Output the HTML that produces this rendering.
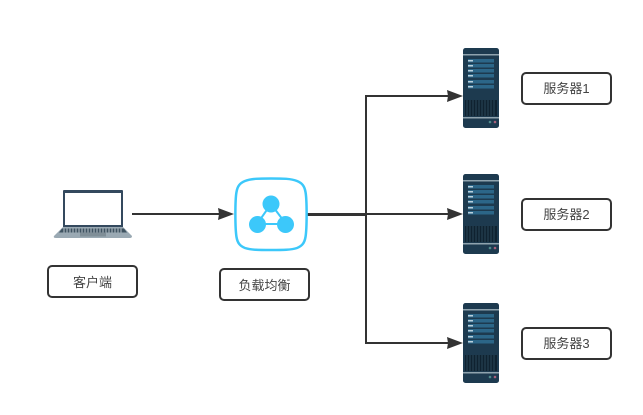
<!DOCTYPE html>
<html><head><meta charset="utf-8"><style>
html,body{margin:0;padding:0;background:#fff}
svg{display:block}
text{font-family:"Liberation Sans","Noto Sans CJK SC",sans-serif;font-size:13px;fill:#444;text-anchor:middle}
</style></head><body>
<svg width="643" height="415" viewBox="0 0 643 415" xmlns="http://www.w3.org/2000/svg">
<defs>
<g id="srv">
<rect x="0" y="0" width="36" height="80" rx="2.5" fill="#1d3a4f"/>
<rect x="0" y="6" width="36" height="1.500" fill="#8fa3ae"/>
<rect x="0" y="69" width="36" height="1.500" fill="#8fa3ae"/>
<rect x="5" y="11" width="26" height="3.500" fill="#2c6688"/>
<rect x="5" y="16" width="26" height="3.500" fill="#2c6688"/>
<rect x="5" y="21" width="26" height="3.500" fill="#2c6688"/>
<rect x="5" y="26" width="26" height="3.500" fill="#2c6688"/>
<rect x="5" y="32" width="26" height="3.500" fill="#2c6688"/>
<rect x="5" y="37" width="26" height="3.500" fill="#2c6688"/>
<rect x="5" y="12" width="5" height="1.500" fill="#b9d0dd"/>
<rect x="5" y="17" width="5" height="1.500" fill="#b9d0dd"/>
<rect x="5" y="22" width="5" height="1.500" fill="#b9d0dd"/>
<rect x="5" y="27" width="5" height="1.500" fill="#b9d0dd"/>
<rect x="5" y="33" width="5" height="1.500" fill="#b9d0dd"/>
<rect x="5" y="38" width="5" height="1.500" fill="#b9d0dd"/>
<rect x="2" y="52" width="32" height="16" fill="#0f2230"/>
<path d="M4 52v16M7 52v16M10 52v16M13 52v16M16 52v16M19 52v16M22 52v16M25 52v16M28 52v16M31 52v16" stroke="#2a4658" stroke-width="1"/>
<circle cx="27" cy="74" r="1.300" fill="#4f8a8b"/>
<circle cx="32" cy="74" r="1.300" fill="#a8607a"/>
</g>
<g id="box"><rect x="0" y="0" width="89" height="31" rx="4" fill="#fff" stroke="#333" stroke-width="2"/></g>
</defs>

<!-- Laptop -->
<rect x="63" y="190" width="60" height="38" rx="1" fill="#34495e"/>
<rect x="65" y="193" width="56" height="32" fill="#fff"/>
<path d="M63 227H123L132 236Q132 238 130 238H56Q53 238 54 236Z" fill="#9aa9b3"/>
<path d="M62 228.500H124L127 232.500H59Z" fill="#3f5361"/>
<path d="M64 228.500v4M67 228.500v4M70 228.500v4M73 228.500v4M76 228.500v4M79 228.500v4M82 228.500v4M85 228.500v4M88 228.500v4M91 228.500v4M94 228.500v4M97 228.500v4M100 228.500v4M103 228.500v4M106 228.500v4M109 228.500v4M112 228.500v4M115 228.500v4M118 228.500v4M121 228.500v4" stroke="#b7c2c9" stroke-width="1"/>
<rect x="80" y="232.500" width="26" height="4" fill="#7f8e97"/>

<!-- Connectors -->
<g fill="none" stroke="#333" stroke-width="2">
<path d="M132 214H222"/>
<path d="M307 214H451"/>
<path d="M307 215H366V96H451"/>
<path d="M366 214V343H451"/>
</g>
<g fill="#333">
<path d="M234 214L218 208L219 214L218 220Z"/>
<path d="M463 96L447 90L448 96L447 102Z"/>
<path d="M463 214L447 208L448 214L447 220Z"/>
<path d="M463 343L447 337L448 343L447 349Z"/>
</g>

<!-- Load balancer -->
<path d="M271 178.500C283 178.500 291 178.500 297 181C302 183 304.500 186 305.500 192C307 200 307 228 305.500 237C304.500 243 302 246 297 248C291 250 283 250 271 250C259 250 251 250 245 248C240 246 237.500 243 236.500 237C235 228 235 200 236.500 192C237.500 186 240 183 245 181C251 178.500 259 178.500 271 178.500Z" fill="#fff" stroke="#3cc8fa" stroke-width="2.500"/>
<path d="M271 204L257 224H286Z" fill="none" stroke="#3cc8fa" stroke-width="2"/>
<circle cx="271" cy="204" r="8.500" fill="#3cc8fa"/>
<circle cx="257.500" cy="224.500" r="8.500" fill="#3cc8fa"/>
<circle cx="285.500" cy="224.500" r="8.500" fill="#3cc8fa"/>

<!-- Servers -->
<use href="#srv" x="463" y="48"/>
<use href="#srv" x="463" y="174"/>
<use href="#srv" x="463" y="303"/>

<!-- Labels -->
<use href="#box" x="48" y="266"/>
<text x="92.500" y="287">客户端</text>
<use href="#box" x="220" y="269"/>
<text x="264.500" y="290">负载均衡</text>
<use href="#box" x="522" y="73"/>
<text x="566.500" y="93">服务器1</text>
<use href="#box" x="522" y="199"/>
<text x="566.500" y="219">服务器2</text>
<use href="#box" x="522" y="328"/>
<text x="566.500" y="348">服务器3</text>
</svg>
</body></html>
